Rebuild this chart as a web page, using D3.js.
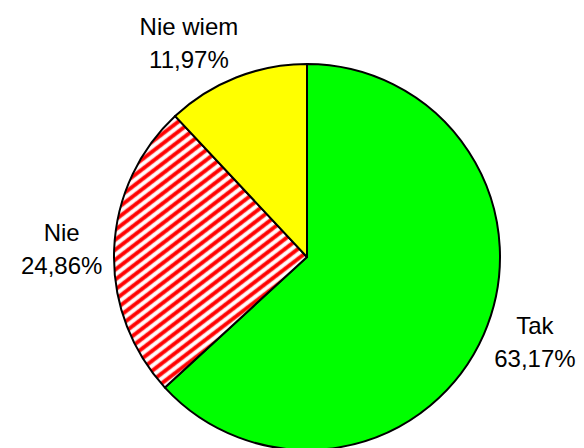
<!DOCTYPE html>
<html>
<head>
<meta charset="utf-8">
<script src="https://cdn.jsdelivr.net/npm/d3@7/dist/d3.min.js"></script>
<style>
  body { margin: 0; background: #fff; }
  text { font-family: "Liberation Sans", Arial, sans-serif; }
</style>
</head>
<body>
<script>
// data
var categories = ["Tak", "Nie", "Nie wiem"];
var values = [63.17, 24.86, 11.97];
var valueLabels = ["63,17%", "24,86%", "11,97%"];
var fills = ["#00ff00", "url(#hatch)", "#ffff00"];

var width = 584, height = 448;
var cx = 307, cy = 257, radius = 193;

var svg = d3.select("body").append("svg")
    .attr("width", width)
    .attr("height", height);

// red diagonal hatching for "Nie"
var per = 7.9;
var pat = svg.append("defs").append("pattern")
    .attr("id", "hatch")
    .attr("patternUnits", "userSpaceOnUse")
    .attr("width", per)
    .attr("height", per)
    .attr("patternTransform", "rotate(-37.5)");
pat.append("rect").attr("width", per).attr("height", per).attr("fill", "#fff");
pat.append("rect").attr("y", 1.6).attr("width", per).attr("height", 4.6).attr("fill", "#ff9090");
pat.append("rect").attr("y", 2.2).attr("width", per).attr("height", 3.4).attr("fill", "#ff0000");

var g = svg.append("g")
    .attr("transform", "translate(" + cx + "," + cy + ")");

var pie = d3.pie()
    .sort(null)
    .value(function (d) { return d; });
var data_ready = pie(values);

var arc = d3.arc()
    .innerRadius(0)
    .outerRadius(radius);

g.selectAll("path.slice")
    .data(data_ready)
    .enter()
    .append("path")
    .attr("class", "slice")
    .attr("d", arc)
    .attr("fill", function (d, i) { return fills[i]; })
    .attr("stroke", "#000")
    .attr("stroke-width", 2)
    .attr("stroke-linejoin", "round");

// labels outside the pie, pushed away by half the text box
var gap = 15, lineGap = 33;
var labels = g.selectAll("text.lbl")
    .data(data_ready)
    .enter()
    .append("text")
    .attr("class", "lbl")
    .attr("text-anchor", "middle")
    .style("font-size", "24px")
    .attr("fill", "#000");

labels.append("tspan").attr("x", 0).attr("dy", 0)
    .text(function (d, i) { return categories[i]; });
labels.append("tspan").attr("x", 0).attr("dy", lineGap)
    .text(function (d, i) { return valueLabels[i]; });

labels.attr("transform", function (d) {
    var a = (d.startAngle + d.endAngle) / 2;
    var s = Math.sin(a), c = Math.cos(a);
    var bb = this.getBBox();
    var w = bb.width, h = lineGap + 17;
    var fx = Math.max(-1, Math.min(1, 2.5 * s)) * 0.92;
    var fy = -c * c * c;
    var px = (radius + gap) * s + fx * w / 2;
    var py = -(radius + gap) * c + fy * h / 2;
    // px,py is the visual centre of the two lines
    return "translate(" + px + "," + (py - lineGap / 2 + 8.5) + ")";
});
</script>
</body>
</html>
